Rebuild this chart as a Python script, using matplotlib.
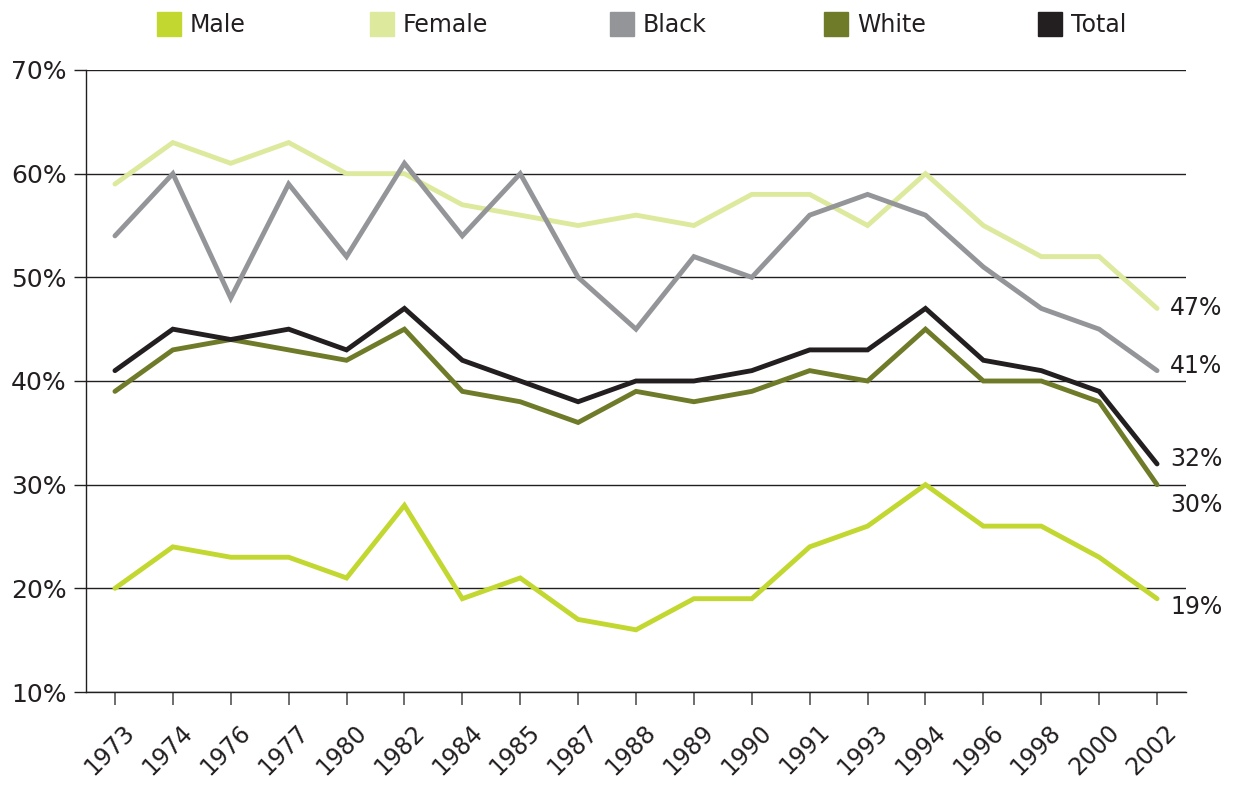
import matplotlib
matplotlib.use("Agg")
import matplotlib.pyplot as plt
from matplotlib.patches import Rectangle
from matplotlib.transforms import ScaledTranslation

plt.rcParams['font.family'] = ['DejaVu Sans']

# data (percent)
years = ['1973', '1974', '1976', '1977', '1980', '1982', '1984', '1985', '1987', '1988',
         '1989', '1990', '1991', '1993', '1994', '1996', '1998', '2000', '2002']
male = [20, 24, 23, 23, 21, 28, 19, 21, 17, 16, 19, 19, 24, 26, 30, 26, 26, 23, 19]
female = [59, 63, 61, 63, 60, 60, 57, 56, 55, 56, 55, 58, 58, 55, 60, 55, 52, 52, 47]
black = [54, 60, 48, 59, 52, 61, 54, 60, 50, 45, 52, 50, 56, 58, 56, 51, 47, 45, 41]
white = [39, 43, 44, 43, 42, 45, 39, 38, 36, 39, 38, 39, 41, 40, 45, 40, 40, 38, 30]
total = [41, 45, 44, 45, 43, 47, 42, 40, 38, 40, 40, 41, 43, 43, 47, 42, 41, 39, 32]

names = ['Male', 'Female', 'Black', 'White', 'Total']
series = [male, female, black, white, total]
colors = ['#C2D72F', '#DDE99C', '#939598', '#6F7B29', '#231F20']
# vertical offsets (points) for the end labels
label_dy = [-6, 0, 3, -14.5, 3.5]
text_c = '#231F20'

fig = plt.figure(figsize=(12.34, 7.87), dpi=100)
ax = fig.add_axes([86 / 1234, 1 - 692 / 787, 1100 / 1234, 622 / 787])

x = list(range(len(years)))
for vals, c in zip(series, colors):
    ax.plot(x, vals, color=c, lw=3.5, solid_joinstyle='miter', solid_capstyle='round', zorder=3)

for vals, dy in zip(series, label_dy):
    ax.annotate(f'{vals[-1]}%', xy=(x[-1], vals[-1]), xytext=(9.5, dy), textcoords='offset points',
                ha='left', va='center', fontsize=17, color=text_c, annotation_clip=False)

ax.set_xlim(-0.5, len(years) - 0.5)
ax.set_ylim(10, 70)
ax.set_yticks(range(10, 71, 10))
ax.set_yticklabels([f'{v}%' for v in range(10, 71, 10)])
ax.set_xticks(x)
ax.set_xticklabels(years, rotation=45, ha='right', rotation_mode='anchor')
ax.tick_params(axis='y', length=9, width=1, color=text_c, labelsize=18, labelcolor=text_c, pad=5)
ax.tick_params(axis='x', length=9.5, width=1.2, color='#555555', labelsize=17, labelcolor=text_c, pad=10.5)
for lbl in ax.get_xticklabels():
    lbl.set_transform(lbl.get_transform() + ScaledTranslation(5.5 / 72, 0, fig.dpi_scale_trans))

ax.yaxis.grid(True, color=text_c, lw=1.0)
ax.set_axisbelow(True)
for s in ['top', 'right']:
    ax.spines[s].set_visible(False)
for s in ['left', 'bottom']:
    ax.spines[s].set_color(text_c)
    ax.spines[s].set_linewidth(1.0)

# legend across the top
leg_x = [157, 370, 610, 824, 1038]
for xp, name, c in zip(leg_x, names, colors):
    fig.patches.append(Rectangle((xp / 1234, 1 - 36 / 787), 24 / 1234, 24 / 787,
                                 transform=fig.transFigure, color=c))
    fig.text((xp + 33) / 1234, 1 - 25 / 787, name, ha='left', va='center', fontsize=17, color=text_c)

fig.savefig('out.png', dpi=100)
